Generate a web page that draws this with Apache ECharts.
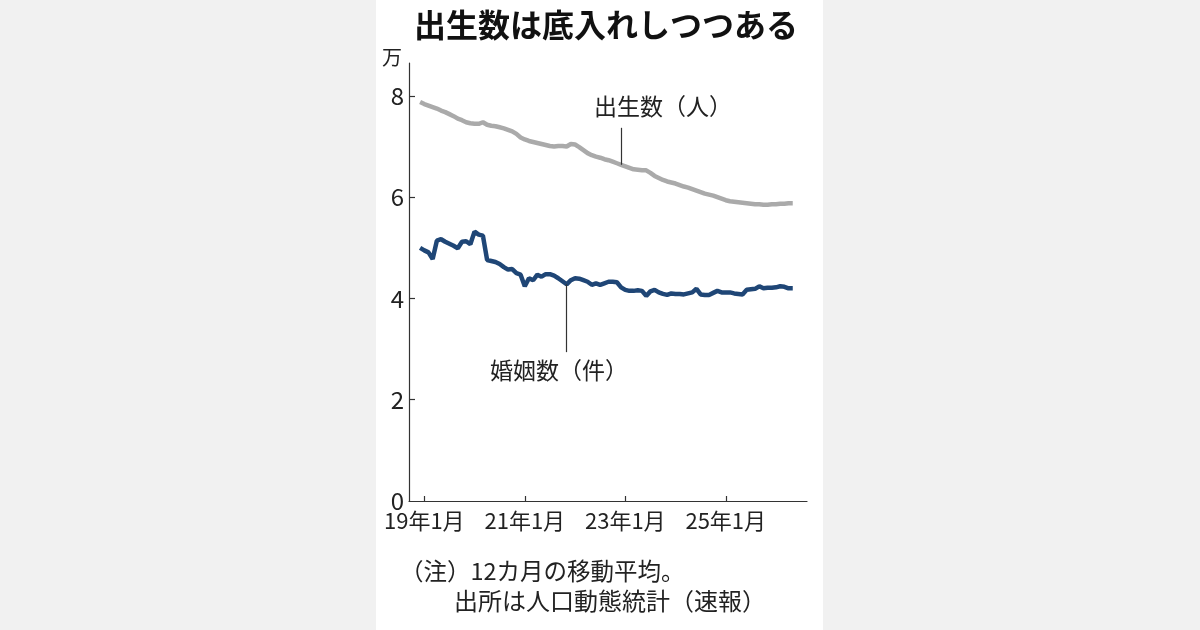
<!DOCTYPE html>
<html>
<head>
<meta charset="utf-8">
<script src="https://cdn.jsdelivr.net/npm/echarts@6/dist/echarts.min.js"></script>
<style>
  html, body { margin: 0; padding: 0; width: 1200px; height: 630px; overflow: hidden; background: #f1f1f1; }
  #panel { position: absolute; left: 376px; top: 0; width: 447px; height: 630px; background: #ffffff; }
  #chart { position: absolute; left: 0; top: 0; width: 1200px; height: 630px; }
</style>
</head>
<body>
<div id="panel"></div>
<div id="chart"></div>
<script>
// Months (Dec 2018 – May 2026)
const months = [
  '2018-12',
  '2019-01','2019-02','2019-03','2019-04','2019-05','2019-06','2019-07','2019-08','2019-09','2019-10','2019-11','2019-12',
  '2020-01','2020-02','2020-03','2020-04','2020-05','2020-06','2020-07','2020-08','2020-09','2020-10','2020-11','2020-12',
  '2021-01','2021-02','2021-03','2021-04','2021-05','2021-06','2021-07','2021-08','2021-09','2021-10','2021-11','2021-12',
  '2022-01','2022-02','2022-03','2022-04','2022-05','2022-06','2022-07','2022-08','2022-09','2022-10','2022-11','2022-12',
  '2023-01','2023-02','2023-03','2023-04','2023-05','2023-06','2023-07','2023-08','2023-09','2023-10','2023-11','2023-12',
  '2024-01','2024-02','2024-03','2024-04','2024-05','2024-06','2024-07','2024-08','2024-09','2024-10','2024-11','2024-12',
  '2025-01','2025-02','2025-03','2025-04','2025-05','2025-06','2025-07','2025-08','2025-09','2025-10','2025-11','2025-12',
  '2026-01','2026-02','2026-03','2026-04','2026-05'
];

// 出生数 (万人, 12-month moving average)
const births = [
  7.88,
  7.84,7.81,7.78,7.75,7.71,7.68,7.64,7.60,7.55,7.52,7.48,7.46,
  7.45,7.45,7.48,7.43,7.41,7.40,7.38,7.36,7.33,7.30,7.25,7.18,
  7.14,7.11,7.09,7.07,7.05,7.03,7.01,7.00,7.01,7.01,7.00,7.05,
  7.04,6.99,6.93,6.87,6.83,6.80,6.78,6.75,6.73,6.70,6.67,6.64,
  6.61,6.58,6.55,6.54,6.53,6.53,6.48,6.42,6.38,6.34,6.31,6.29,
  6.27,6.24,6.21,6.19,6.16,6.13,6.10,6.07,6.05,6.03,6.00,5.97,
  5.94,5.92,5.91,5.90,5.89,5.88,5.87,5.86,5.86,5.85,5.85,5.86,
  5.86,5.87,5.87,5.88,5.88
];

// 婚姻数 (万件, 12-month moving average)
const marriages = [
  5.00,
  4.95,4.91,4.78,5.14,5.17,5.12,5.08,5.04,4.99,5.12,5.13,5.07,
  5.32,5.26,5.24,4.76,4.74,4.72,4.68,4.62,4.57,4.58,4.50,4.47,
  4.24,4.40,4.36,4.47,4.43,4.48,4.48,4.45,4.40,4.34,4.28,4.36,
  4.40,4.39,4.36,4.33,4.27,4.30,4.27,4.30,4.33,4.33,4.32,4.22,
  4.17,4.15,4.15,4.16,4.15,4.05,4.14,4.17,4.12,4.09,4.07,4.10,
  4.09,4.09,4.08,4.10,4.12,4.19,4.08,4.07,4.07,4.11,4.15,4.12,
  4.12,4.12,4.10,4.09,4.08,4.17,4.18,4.19,4.24,4.20,4.21,4.21,
  4.22,4.24,4.23,4.20,4.20
];

// Axis ticks
const xTickMonths = ['2019-01','2021-01','2023-01','2025-01'];
const xTickLabels = ['19年1月','21年1月','23年1月','25年1月'];
const yTicks = [0, 2, 4, 6, 8];

function monthIndex(s) {
  const [y, m] = s.split('-').map(Number);
  return (y - 2019) * 12 + (m - 1);
}
const xVals = months.map(monthIndex);
const xTickVals = xTickMonths.map(monthIndex);
const birthData = xVals.map((x, i) => [x, births[i]]);
const marriageData = xVals.map((x, i) => [x, marriages[i]]);

const FONT = '"Noto Sans CJK JP", "Noto Sans", sans-serif';
const TXT = '#222222';

const chart = echarts.init(document.getElementById('chart'), null, { renderer: 'canvas' });
chart.setOption({
  animation: false,
  backgroundColor: 'transparent',
  grid: { left: 409, right: 393, top: 63, bottom: 129, containLabel: false },
  xAxis: {
    type: 'value',
    min: -3.65,
    max: 91.4,
    splitLine: { show: false },
    axisLine: { show: true, onZero: false, lineStyle: { color: '#333333', width: 1.2 } },
    axisTick: { show: true, inside: true, length: 5, customValues: xTickVals, lineStyle: { color: '#333333', width: 1.2 } },
    axisLabel: {
      show: true,
      customValues: xTickVals,
      margin: 9,
      color: TXT,
      fontFamily: FONT,
      fontSize: 22,
      formatter: function (v) {
        const i = xTickVals.indexOf(Math.round(v));
        return i >= 0 ? xTickLabels[i] : '';
      }
    }
  },
  yAxis: {
    type: 'value',
    min: 0,
    max: 8.65,
    splitLine: { show: false },
    axisLine: { show: true, onZero: false, lineStyle: { color: '#333333', width: 1.2 } },
    axisTick: { show: true, inside: true, length: 6, customValues: yTicks.filter(v => v > 0), lineStyle: { color: '#333333', width: 1.2 } },
    axisLabel: {
      show: true,
      customValues: yTicks,
      margin: 5,
      color: TXT,
      fontFamily: FONT,
      fontSize: 24
    }
  },
  series: [
    {
      name: '出生数（人）',
      type: 'line',
      data: birthData,
      showSymbol: false,
      lineStyle: { color: '#aaaaaa', width: 4.5 },
      markLine: {
        silent: true,
        symbol: 'none',
        label: { show: false },
        lineStyle: { color: '#333333', width: 1.2, type: 'solid' },
        data: [[{ coord: [47, 7.37] }, { coord: [47, 6.64] }]]
      }
    },
    {
      name: '婚姻数（件）',
      type: 'line',
      data: marriageData,
      showSymbol: false,
      lineStyle: { color: '#1f4676', width: 4.5 },
      markLine: {
        silent: true,
        symbol: 'none',
        label: { show: false },
        lineStyle: { color: '#333333', width: 1.2, type: 'solid' },
        data: [[{ coord: [34, 4.28] }, { coord: [34, 2.94] }]]
      }
    }
  ],
  graphic: [
    { type: 'text', x: 606, y: 25, style: { text: '出生数は底入れしつつある', fill: '#111111', font: 'bold 32px ' + FONT, textAlign: 'center', textVerticalAlign: 'middle' } },
    { type: 'text', x: 392, y: 57, style: { text: '万', fill: TXT, font: '20px ' + FONT, textAlign: 'center', textVerticalAlign: 'middle' } },
    { type: 'text', x: 594, y: 106, style: { text: '出生数（人）', fill: TXT, font: '23px ' + FONT, textAlign: 'left', textVerticalAlign: 'middle' } },
    { type: 'text', x: 490, y: 370, style: { text: '婚姻数（件）', fill: TXT, font: '23px ' + FONT, textAlign: 'left', textVerticalAlign: 'middle' } },
    { type: 'text', x: 400, y: 571, style: { text: '（注）12カ月の移動平均。', fill: TXT, font: '23.5px ' + FONT, textAlign: 'left', textVerticalAlign: 'middle' } },
    { type: 'text', x: 454, y: 601, style: { text: '出所は人口動態統計（速報）', fill: TXT, font: '24px ' + FONT, textAlign: 'left', textVerticalAlign: 'middle' } }
  ]
});
</script>
</body>
</html>
